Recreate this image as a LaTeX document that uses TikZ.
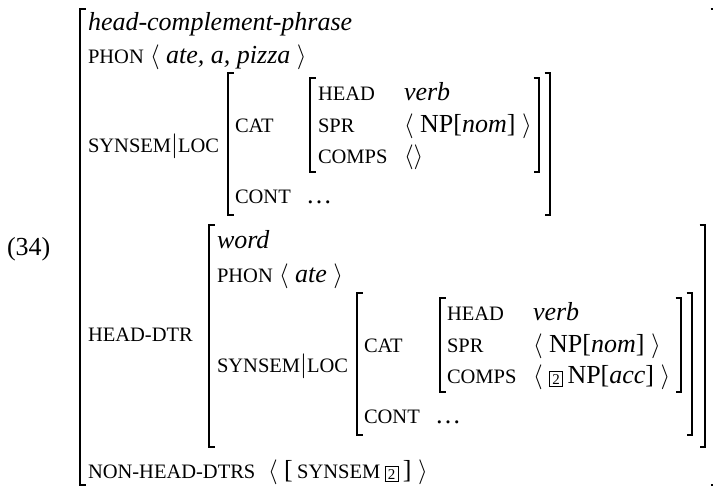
\documentclass[tikz,border=0pt]{standalone}
\usepackage{fontspec}
\setmainfont{Liberation Serif}
\newcommand\avmattr[1]{{\fontsize{20.5}{21}\selectfont #1}}
\newcommand\avmtag[1]{\raisebox{-1.5pt}{\setlength\fboxsep{0pt}\setlength\fboxrule{0.7pt}\framebox[14pt][c]{\rule[-1.5pt]{0pt}{14.5pt}\fontsize{15}{15}\selectfont #1}}}
\tikzset{
  txt/.style={anchor=base west, inner sep=0pt, outer sep=0pt, font=\fontsize{26}{30}\selectfont},
  brk/.style={line width=1.2pt, line join=miter, line cap=butt},
}
\newcommand\lbrk[3]{\draw[brk] (#1+5.5,#2) -- (#1,#2) -- (#1,#3) -- (#1+5.5,#3);}
\newcommand\rbrk[3]{\draw[brk] (#1-5.5,#2) -- (#1,#2) -- (#1,#3) -- (#1-5.5,#3);}
\begin{document}
\begin{tikzpicture}[x=1pt,y=-1pt]
\useasboundingbox (0,0) rectangle (713,488);
% example number
\node[txt] (num) at (7,255) {(34)};
% outer brackets
\lbrk{80}{9}{485}
\rbrk{716}{9}{485}
% top level
\node[txt] (type1) at (88,30) {\textit{head-complement-phrase}};
\node[txt] (phon1) at (88,63) {\avmattr{PHON}};
\node[txt] (phon1v) at (150,63) {$\langle$ \textit{ate, a, pizza} $\rangle$};
\node[txt] (sl1) at (88,152) {\avmattr{SYNSEM}$|$\avmattr{LOC}};
% LOC value (top)
\lbrk{228}{73}{215}
\rbrk{550}{73}{215}
\node[txt] (cat1) at (235,132) {\avmattr{CAT}};
\node[txt] (cont1) at (235,203) {\avmattr{CONT}};
\node[txt] (cont1v) at (306,203) {\ldots};
% CAT value (top)
\lbrk{310}{78}{172}
\rbrk{539}{78}{172}
\node[txt] (head1) at (318,100) {\avmattr{HEAD}};
\node[txt] (head1v) at (404,100) {\textit{verb}};
\node[txt] (spr1) at (318,132) {\avmattr{SPR}};
\node[txt] (spr1v) at (404,132) {$\langle$ NP[\textit{nom}] $\rangle$};
\node[txt] (comps1) at (318,163) {\avmattr{COMPS}};
\node[txt] (comps1v) at (404,163) {$\langle\rangle$};
% HEAD-DTR
\node[txt] (hd) at (88,341) {\avmattr{HEAD-DTR}};
\lbrk{209}{225}{447}
\rbrk{705}{225}{447}
\node[txt] (type2) at (217,248) {\textit{word}};
\node[txt] (phon2) at (217,282) {\avmattr{PHON}};
\node[txt] (phon2v) at (279,282) {$\langle$ \textit{ate} $\rangle$};
\node[txt] (sl2) at (217,372) {\avmattr{SYNSEM}$|$\avmattr{LOC}};
% LOC value (head-dtr)
\lbrk{357}{293}{435}
\rbrk{692}{293}{435}
\node[txt] (cat2) at (364,352) {\avmattr{CAT}};
\node[txt] (cont2) at (364,423) {\avmattr{CONT}};
\node[txt] (cont2v) at (435,423) {\ldots};
% CAT value (head-dtr)
\lbrk{440}{298}{392}
\rbrk{681}{298}{392}
\node[txt] (head2) at (447,320) {\avmattr{HEAD}};
\node[txt] (head2v) at (533,320) {\textit{verb}};
\node[txt] (spr2) at (447,352) {\avmattr{SPR}};
\node[txt] (spr2v) at (533,352) {$\langle$ NP[\textit{nom}] $\rangle$};
\node[txt] (comps2) at (447,383) {\avmattr{COMPS}};
\node[txt] (comps2v) at (533,383) {$\langle$ \avmtag{2}\,NP[\textit{acc}] $\rangle$};
% NON-HEAD-DTRS
\node[txt] (nhd) at (88,478) {\avmattr{NON-HEAD-DTRS}};
\node[txt] (nhdv) at (268,478) {$\langle$ [\,\avmattr{SYNSEM}\,\avmtag{2}\,] $\rangle$};
\end{tikzpicture}
\end{document}
